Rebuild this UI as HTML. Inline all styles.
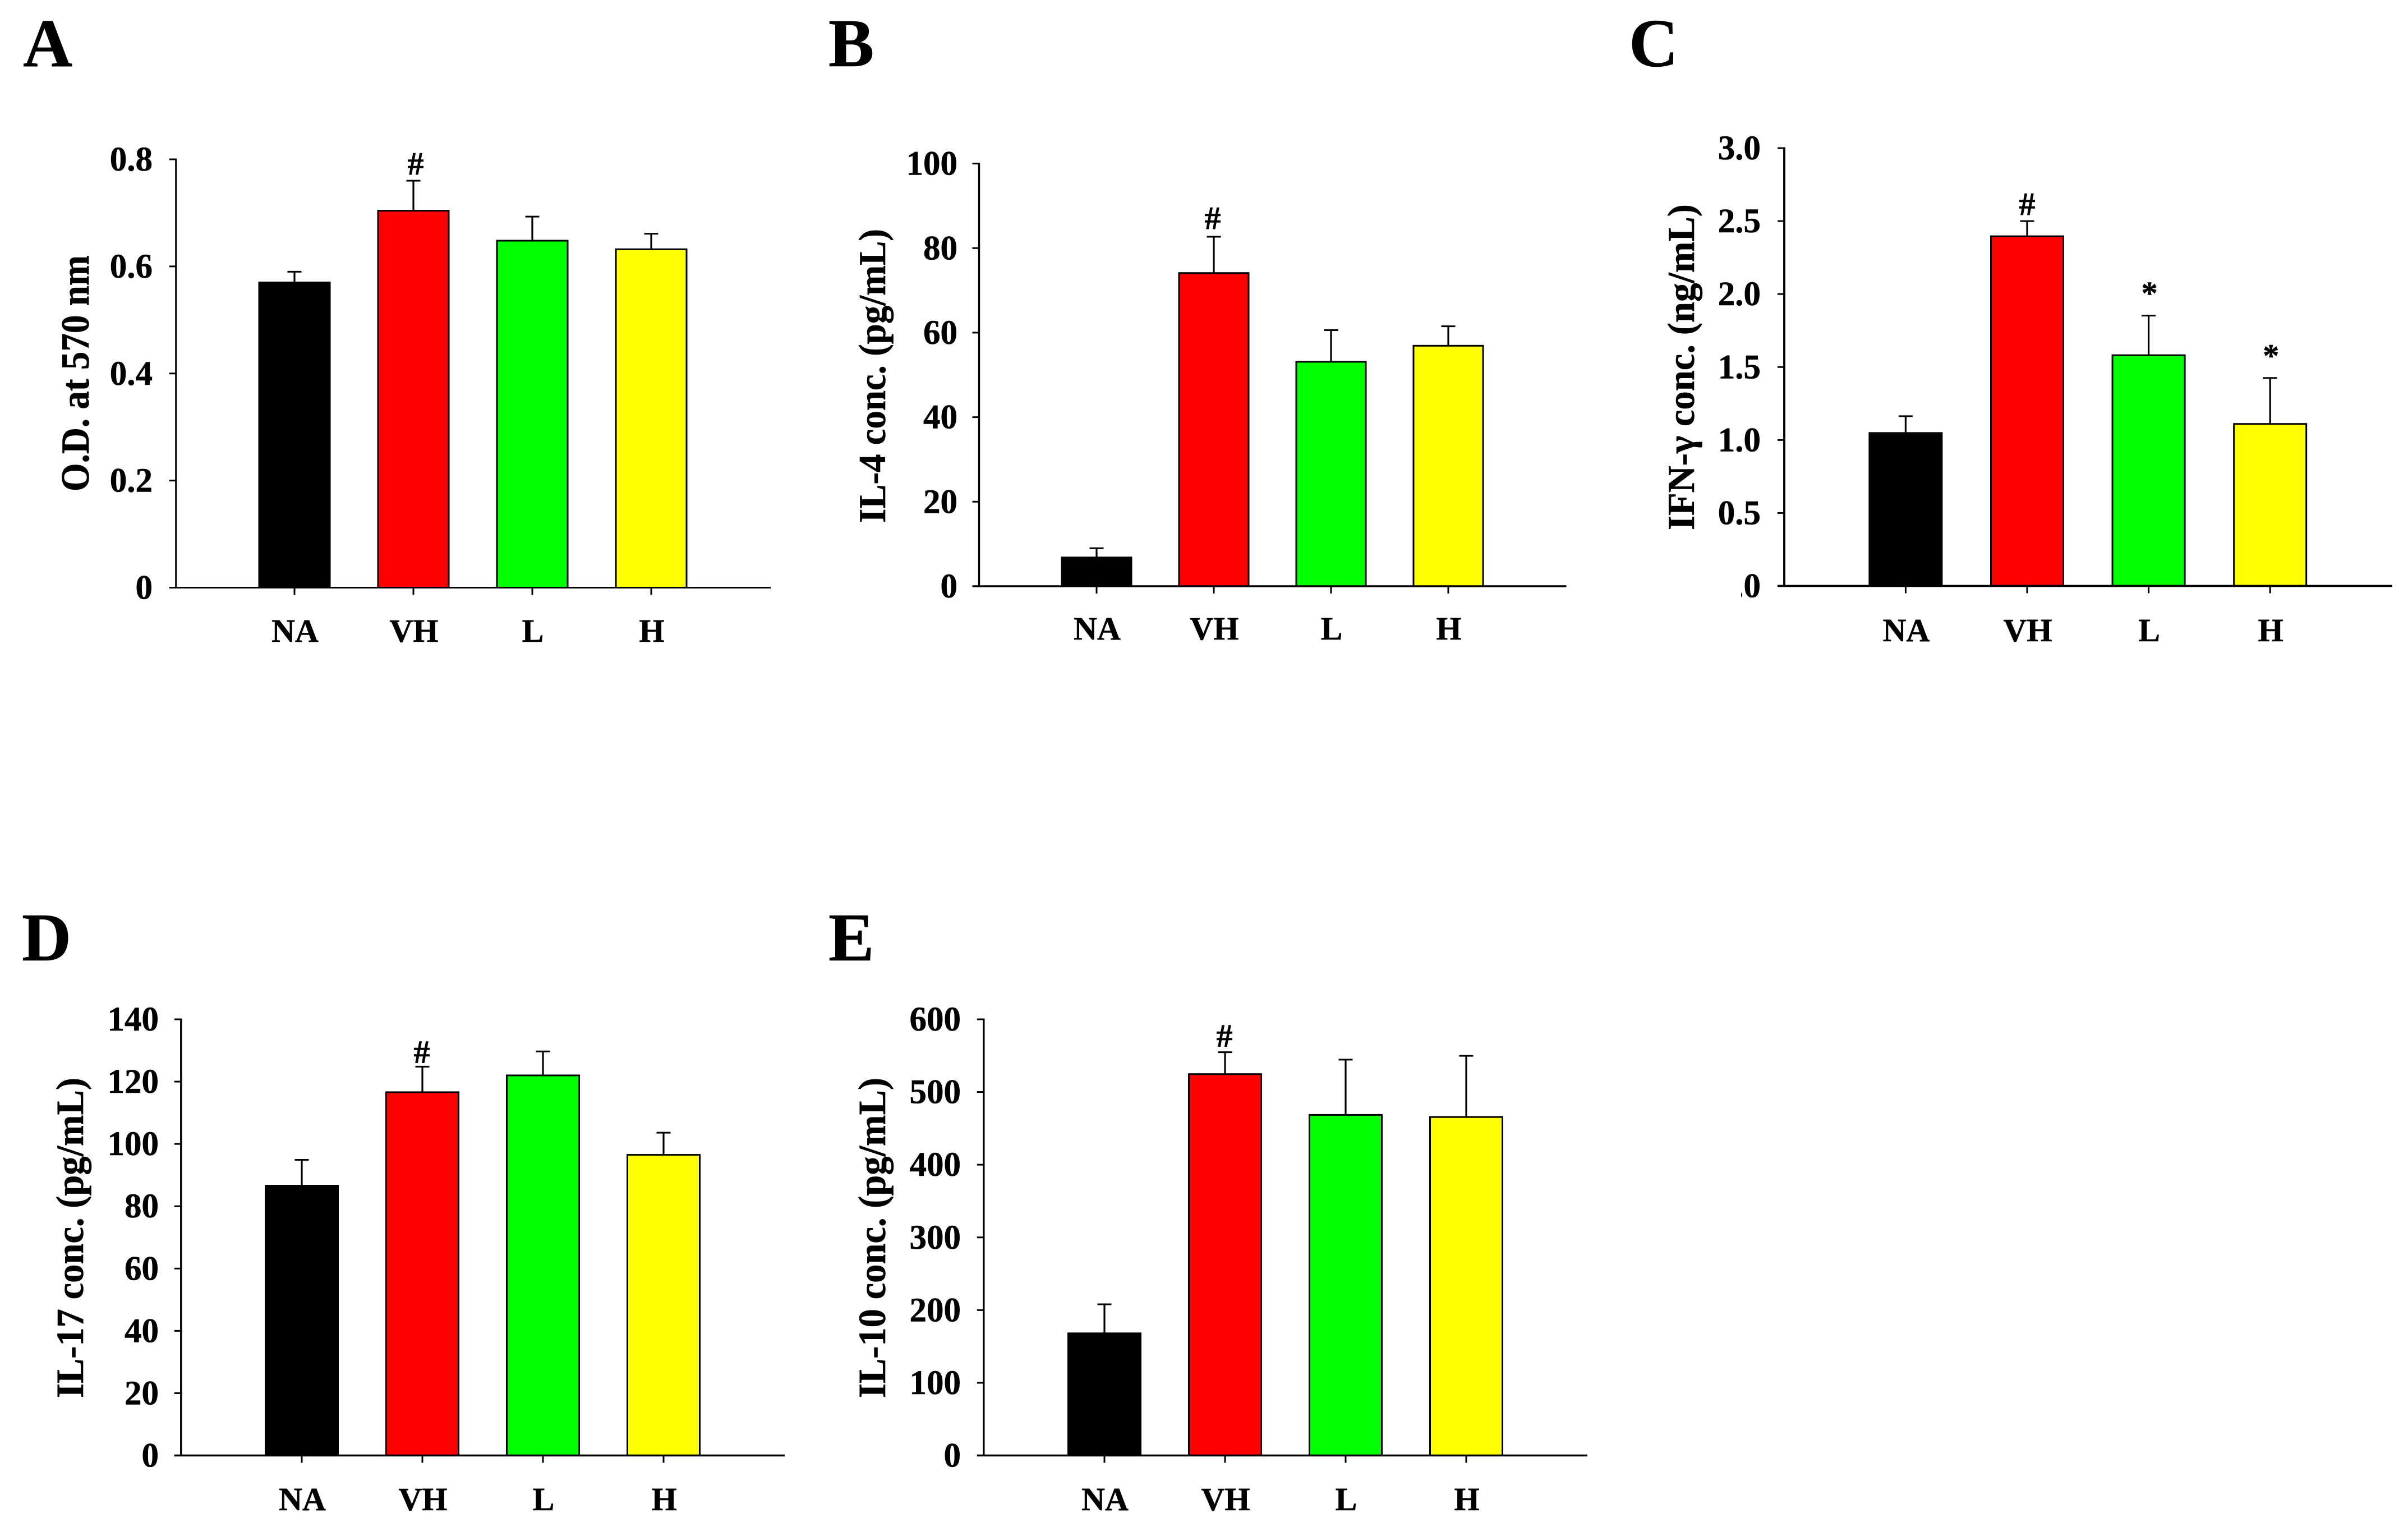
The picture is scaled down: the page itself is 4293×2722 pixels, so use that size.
<!DOCTYPE html>
<html lang="en">
<head>
<meta charset="utf-8">
<title>Cytokine bar charts</title>
<style>
html,body{margin:0;padding:0;background:#fff;}
svg{display:block;}
text{font-family:"Liberation Serif",serif;font-weight:bold;fill:#000;stroke:#000;stroke-width:0.6px;}
</style>
</head>
<body>
<svg id="figure" xmlns="http://www.w3.org/2000/svg" width="4293" height="2722" viewBox="0 0 4293 2722">
<defs>
<clipPath id="clip-c-zero" clipPathUnits="userSpaceOnUse"><rect x="3104" y="1000" width="60" height="90"/></clipPath>
</defs>
<rect x="0" y="0" width="4293" height="2722" fill="#ffffff"/>
</svg>
<script>
// Shared categories
const categories = ["NA", "VH", "L", "H"];
const barColors = ["#000000", "#ff0000", "#00ff00", "#ffff00"];

// Panel A
const aMeans = [0.570, 0.704, 0.648, 0.632];
const aErrors = [0.020, 0.056, 0.045, 0.029];
const aTicks = [0, 0.2, 0.4, 0.6, 0.8];
const aTickLabels = ["0", "0.2", "0.4", "0.6", "0.8"];
const aMarks = ["", "#", "", ""];

// Panel B
const bMeans = [6.8, 74.1, 53.1, 56.9];
const bErrors = [2.2, 8.6, 7.5, 4.6];
const bTicks = [0, 20, 40, 60, 80, 100];
const bTickLabels = ["0", "20", "40", "60", "80", "100"];
const bMarks = ["", "#", "", ""];

// Panel C
const cMeans = [1.048, 2.396, 1.581, 1.110];
const cErrors = [0.115, 0.104, 0.271, 0.315];
const cTicks = [0, 0.5, 1, 1.5, 2, 2.5, 3];
const cTickLabels = [".0", "0.5", "1.0", "1.5", "2.0", "2.5", "3.0"];
const cMarks = ["", "#", "*", "*"];

// Panel D
const dMeans = [86.6, 116.6, 122.0, 96.5];
const dErrors = [8.3, 8.2, 7.7, 7.1];
const dTicks = [0, 20, 40, 60, 80, 100, 120, 140];
const dTickLabels = ["0", "20", "40", "60", "80", "100", "120", "140"];
const dMarks = ["", "#", "", ""];

// Panel E
const eMeans = [168, 524.6, 468.5, 465.6];
const eErrors = [40, 30.2, 76, 84.1];
const eTicks = [0, 100, 200, 300, 400, 500, 600];
const eTickLabels = ["0", "100", "200", "300", "400", "500", "600"];
const eMarks = ["", "#", "", ""];

const SVG_NS = "http://www.w3.org/2000/svg";
const figure = document.getElementById("figure");

function makeEl(parent, tag, props) {
  const el = document.createElementNS(SVG_NS, tag);
  for (const key in props) {
    el.setAttribute(key, props[key]);
  }
  parent.appendChild(el);
  return el;
}

function drawPanel(p) {
  const group = makeEl(figure, "g", {});
  
  

  const yScale = function (v) { return p.y0 - (v / p.yMax) * (p.y0 - p.yTop); };
  const xScale = function (i) { return p.x0 + i * p.step; };

  const letter = makeEl(group, "text", { x: p.letterX, y: p.letterY, "font-size": 122 });
  letter.textContent = p.id.toUpperCase();
  
  

  // Bars, error bars and significance marks
  p.means.forEach(function (mean, i) {
    const cx = xScale(i);
    const top = yScale(mean);
    const upper = yScale(mean + p.errors[i]);

    const stem = makeEl(group, "line", { x1: cx, x2: cx, y1: top, y2: upper, stroke: "#000", "stroke-width": 3.2 });
    
    

    const cap = makeEl(group, "line", { x1: cx - 12.5, x2: cx + 12.5, y1: upper, y2: upper, stroke: "#000", "stroke-width": 3 });
    
    

    const bar = makeEl(group, "rect", {
      x: cx - p.barW / 2 + 1.5,
      y: top,
      width: p.barW - 3,
      height: p.y0 - top,
      fill: barColors[i],
      stroke: "#000",
      "stroke-width": 3
    });
    
    

    const mark = p.marks[i];
    if (mark) {
      const gap = mark === "#" ? p.hashGap : p.starGap;
      const markEl = makeEl(group, "text", {
        x: cx + (mark === "#" ? p.hashDx : 1.5),
        y: upper - gap,
        "font-size": 58,
        "text-anchor": "middle"
      });
      markEl.textContent = mark;
      
      
    }

    const tick = makeEl(group, "line", { x1: cx, x2: cx, y1: p.y0, y2: p.y0 + 13, stroke: "#000", "stroke-width": 3 });
    
    

    const label = makeEl(group, "text", { x: cx + 1, y: p.xLabelY, "font-size": 58, "text-anchor": "middle" });
    label.textContent = categories[i];
    
    
  });

  // Axes
  const yAxis = makeEl(group, "line", { x1: p.axisX, x2: p.axisX, y1: p.yTop - 1.5, y2: p.y0, stroke: "#000", "stroke-width": p.lw });
  
  

  const xAxis = makeEl(group, "line", { x1: p.axisX - 12, x2: p.axisEnd, y1: p.y0, y2: p.y0, stroke: "#000", "stroke-width": p.lw });
  
  

  p.ticks.forEach(function (v, i) {
    const y = yScale(v);
    const tick = makeEl(group, "line", { x1: p.axisX - 12, x2: p.axisX, y1: y, y2: y, stroke: "#000", "stroke-width": 3 });
    
    

    const label = makeEl(group, "text", { x: p.labelRight, y: y + 20, "font-size": 61, "text-anchor": "end" });
    label.textContent = p.tickLabels[i];
    
    
    if (p.tickLabels[i].charAt(0) === ".") {
      label.setAttribute("clip-path", "url(#clip-c-zero)");
    }
  });

  const title = makeEl(group, "text", {
    transform: "translate(" + p.titleX + " " + p.titleBottom + ") rotate(-90)",
    x: 0,
    y: 0,
    "font-size": p.titleSize,
    textLength: p.titleLen,
    lengthAdjust: "spacingAndGlyphs"
  });
  title.textContent = p.title;
  
  
}

drawPanel({
  id: "a", means: aMeans, errors: aErrors, ticks: aTicks, tickLabels: aTickLabels, marks: aMarks,
  yMax: 0.8, y0: 1047.5, yTop: 284, axisX: 313.7, axisEnd: 1374, x0: 525, step: 212, barW: 129, lw: 3,
  labelRight: 272, xLabelY: 1144, letterX: 41, letterY: 118,
  title: "O.D. at 570 nm", titleX: 158, titleBottom: 876, titleLen: 421, titleSize: 71, hashGap: 11, starGap: 20.5, hashDx: 4
});
drawPanel({
  id: "b", means: bMeans, errors: bErrors, ticks: bTicks, tickLabels: bTickLabels, marks: bMarks,
  yMax: 100, y0: 1045, yTop: 291.6, axisX: 1745.5, axisEnd: 2792.5, x0: 1955, step: 209, barW: 127, lw: 3.4,
  labelRight: 1707, xLabelY: 1140, letterX: 1477, letterY: 118,
  title: "IL-4 conc. (pg/mL)", titleX: 1578, titleBottom: 932, titleLen: 524, titleSize: 68, hashGap: 14, starGap: 20.5, hashDx: -2
});
drawPanel({
  id: "c", means: cMeans, errors: cErrors, ticks: cTicks, tickLabels: cTickLabels, marks: cMarks,
  yMax: 3, y0: 1044.5, yTop: 264, axisX: 3181, axisEnd: 4265, x0: 3397.4, step: 216.6, barW: 132, lw: 3.8,
  labelRight: 3139, xLabelY: 1143, letterX: 2904, letterY: 118,
  title: "IFN-\u03b3 conc. (ng/mL)", titleX: 3020, titleBottom: 945, titleLen: 581, titleSize: 68, hashGap: 11, starGap: 20.5, hashDx: 0
});
drawPanel({
  id: "d", means: dMeans, errors: dErrors, ticks: dTicks, tickLabels: dTickLabels, marks: dMarks,
  yMax: 140, y0: 2594.5, yTop: 1817, axisX: 322.8, axisEnd: 1399, x0: 538, step: 215, barW: 132, lw: 3.4,
  labelRight: 283, xLabelY: 2692, letterX: 39, letterY: 1712,
  title: "IL-17 conc. (pg/mL)", titleX: 148, titleBottom: 2492, titleLen: 571, titleSize: 69, hashGap: 7, starGap: 20.5, hashDx: -1
});
drawPanel({
  id: "e", means: eMeans, errors: eErrors, ticks: eTicks, tickLabels: eTickLabels, marks: eMarks,
  yMax: 600, y0: 2594.5, yTop: 1817, axisX: 1753.8, axisEnd: 2830, x0: 1969, step: 215, barW: 132, lw: 3.4,
  labelRight: 1713, xLabelY: 2692, letterX: 1477, letterY: 1712,
  title: "IL-10 conc. (pg/mL)", titleX: 1578, titleBottom: 2492, titleLen: 571, titleSize: 69, hashGap: 10, starGap: 20.5, hashDx: -1
});
</script>
</body>
</html>
